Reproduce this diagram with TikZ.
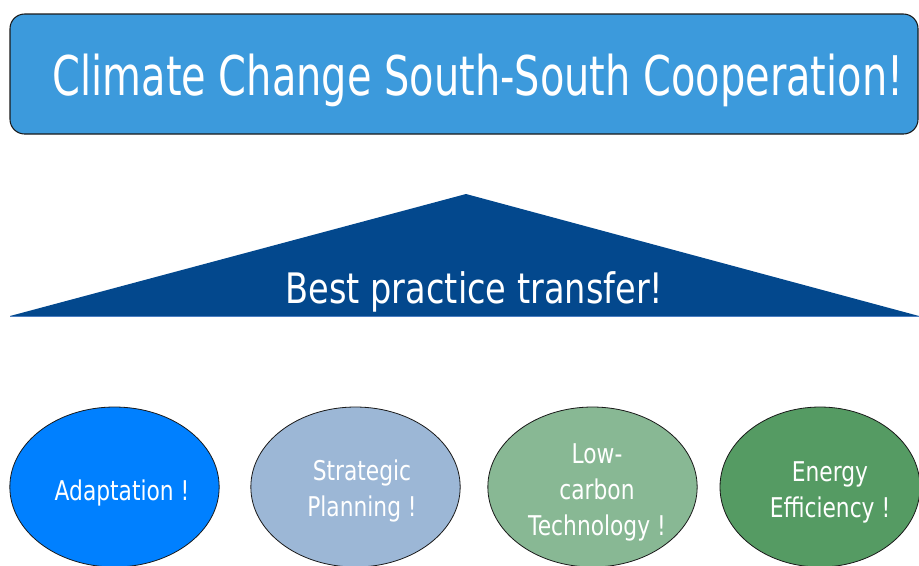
\documentclass[tikz,border=0pt]{standalone}
\usepackage{fontspec}
\setmainfont{DejaVu Sans}
\newfontfamily\bannerFont[FakeStretch=0.73]{DejaVu Sans}
\newfontfamily\topicFont[FakeStretch=0.8]{DejaVu Sans}
\usepackage{tikz}
\usetikzlibrary{positioning,shapes.geometric}
\definecolor{cBanner}{HTML}{3C9ADC}
\definecolor{cRoof}{HTML}{03488D}
\definecolor{cRoofEdge}{HTML}{4A7DC0}
\definecolor{cAdapt}{HTML}{0080FF}
\definecolor{cPlan}{HTML}{9CB7D6}
\definecolor{cLowCarbon}{HTML}{88B894}
\definecolor{cEnergy}{HTML}{559B63}
\definecolor{cEdge}{HTML}{1A1A1A}
\tikzset{
  banner/.style={draw=cEdge, fill=cBanner, line width=0.8pt, rounded corners=11pt,
                 minimum width=681pt, minimum height=90pt, inner sep=0pt},
  bannerTxt/.style={text=white, anchor=base, inner sep=0pt,
                    font=\bannerFont\fontsize{41}{48}\selectfont},
  roofTxt/.style={text=white, anchor=base, inner sep=0pt,
                  font=\topicFont\fontsize{31.5}{38}\selectfont},
  topic/.style={ellipse, draw=cEdge, line width=0.6pt, inner sep=0pt,
                minimum width=157pt, minimum height=120pt},
  topicTxt/.style={text=white, align=center, inner sep=0pt,
                   font=\topicFont\fontsize{20.4}{27}\selectfont},
}

\begin{document}
\begin{tikzpicture}[x=0.75pt, y=-0.75pt]
\useasboundingbox (0,0) rectangle (919,565);

% ========== TITLE BANNER ==========
\node[banner] (title) at (464,74) {};
\node[bannerTxt] (titleTxt) at (478,95) {Climate Change South-South Cooperation!};

% ========== ROOF ==========
\coordinate (roofL) at (10,316);
\coordinate (roofTop) at (466,194);
\coordinate (roofR) at (919,316);
\fill[cRoof] (roofL) -- (roofTop) -- (roofR) -- cycle;
\draw[cRoofEdge, line width=0.6pt] (roofL) -- (roofR);
\node[roofTxt] (roofTxt) at (474.5,303) {Best practice transfer!};

% ========== TOPICS ==========
\node[topic, fill=cAdapt] (adapt) at (114.5,487) {};
\node[topic, fill=cPlan] (plan) at (355.5,487) {};
\node[topic, fill=cLowCarbon] (lowc) at (592.5,487) {};
\node[topic, fill=cEnergy, minimum width=150pt] (energy) at (820,487) {};

\node[topicTxt, anchor=base] (adaptTxt) at (122,500) {Adaptation !};
\node[topicTxt] (planTxt) at (362,491) {Strategic\\Planning !};
\node[topicTxt] (lowcTxt) at (597,492) {Low-\\carbon\\Technology !};
\node[topicTxt] (energyTxt) at (830,492) {Energy\\Efficiency !};

\end{tikzpicture}
\end{document}
